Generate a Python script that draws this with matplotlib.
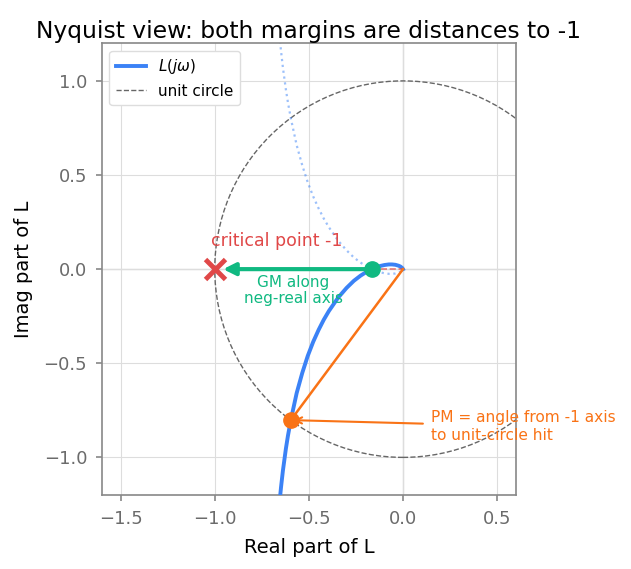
import matplotlib
matplotlib.use("Agg")
import matplotlib.pyplot as plt
from matplotlib.patches import Circle
from matplotlib.lines import Line2D

# L(jw), ordered by increasing frequency
re_L = [-0.673, -0.663, -0.648, -0.638, -0.622, -0.611, -0.596, -0.565, -0.535,
        -0.506, -0.477, -0.448, -0.421, -0.394, -0.345, -0.300, -0.261, -0.226,
        -0.196, -0.167, -0.148, -0.129, -0.098, -0.075, -0.058, -0.040, -0.023,
        -0.014, -0.009, -0.004, -0.001, 0.0]
im_L = [-1.428, -1.311, -1.159, -1.071, -0.953, -0.884, -0.802, -0.659, -0.551,
        -0.461, -0.386, -0.322, -0.269, -0.223, -0.152, -0.100, -0.062, -0.035,
        -0.016, 0.000, 0.008, 0.015, 0.022, 0.025, 0.025, 0.023, 0.018,
        0.014, 0.010, 0.006, 0.002, 0.0]
im_mirror = [-v for v in im_L]

critical = (-1.0, 0.0)
gm_cross = (-0.167, 0.0)
pm_hit = (-0.596, -0.802)

x_ticks = [-1.5, -1.0, -0.5, 0.0, 0.5]
y_ticks = [-1.0, -0.5, 0.0, 0.5, 1.0]

blue = "#3b82f6"
green = "#10b981"
orange = "#f97316"
red = "#e04848"
grey_txt = "#6b6b6b"

fig = plt.figure(figsize=(6.31, 5.69), dpi=100)
ax = fig.add_axes([0.160, 0.130, 0.659, 0.794])

ax.grid(True, color="#dddddd", lw=0.8, zorder=0)
ax.axhline(0, color="#777777", lw=0.8, zorder=1)
ax.axvline(0, color="#777777", lw=0.8, zorder=1)

ax.add_patch(Circle((0, 0), 1.0, fill=False, ls="--", lw=1.0, color="#666666", zorder=2))

ax.plot(re_L, im_mirror, ls=":", lw=1.6, color=blue, alpha=0.5, zorder=2)
ax.plot(re_L, im_L, lw=2.8, color=blue, zorder=3)

# gain margin
ax.plot([gm_cross[0], 0], [0, 0], ls="--", lw=1.2, color=red, alpha=0.7, zorder=3)
ax.annotate("", xy=critical, xytext=gm_cross,
            arrowprops=dict(arrowstyle="-|>", color=green, lw=3, mutation_scale=18,
                            shrinkA=0, shrinkB=6), zorder=4)
ax.plot(*gm_cross, "o", ms=11, color=green, zorder=5)
ax.text((critical[0] + gm_cross[0]) / 2, -0.03, "GM along\nneg-real axis",
        color=green, fontsize=11, ha="center", va="top", linespacing=1.1)

# phase margin
ax.plot([0, pm_hit[0]], [0, pm_hit[1]], lw=1.8, color=orange, zorder=3)
ax.plot(*pm_hit, "o", ms=11, color=orange, zorder=5)
ax.annotate("PM = angle from -1 axis\nto unit-circle hit", xy=pm_hit, xytext=(0.15, -0.835),
            color=orange, fontsize=11.1, ha="left", va="center", linespacing=1.2,
            arrowprops=dict(arrowstyle="->", color=orange, lw=1.5, shrinkA=4, shrinkB=2))

# critical point
ax.plot(*critical, "x", ms=14, mew=3.5, color=red, zorder=6)
ax.text(-1.02, 0.1, "critical point -1", color=red, fontsize=12.5, ha="left", va="bottom")

ax.set_xlim(-1.6, 0.6)
ax.set_ylim(-1.2, 1.2)
ax.set_aspect("equal")
ax.set_xticks(x_ticks)
ax.set_yticks(y_ticks)
ax.tick_params(colors="#888888", labelcolor=grey_txt, labelsize=13, length=4.5,
               width=1.2, pad=6)
for s in ax.spines.values():
    s.set_color("#888888")
    s.set_linewidth(1.2)

ax.set_xlabel("Real part of L", fontsize=14, labelpad=7.5)
ax.set_ylabel("Imag part of L", fontsize=14, labelpad=7.5)
ax.set_title("Nyquist view: both margins are distances to -1", fontsize=16.8, pad=4)

handles = [Line2D([], [], color=blue, lw=2.8, label=r"$L(j\omega)$"),
           Line2D([], [], color="#666666", lw=1.0, ls="--", label="unit circle")]
ax.legend(handles=handles, loc="upper left", fontsize=11, framealpha=1,
          edgecolor="#dddddd", fancybox=True)

fig.savefig("out.png", dpi=100)
